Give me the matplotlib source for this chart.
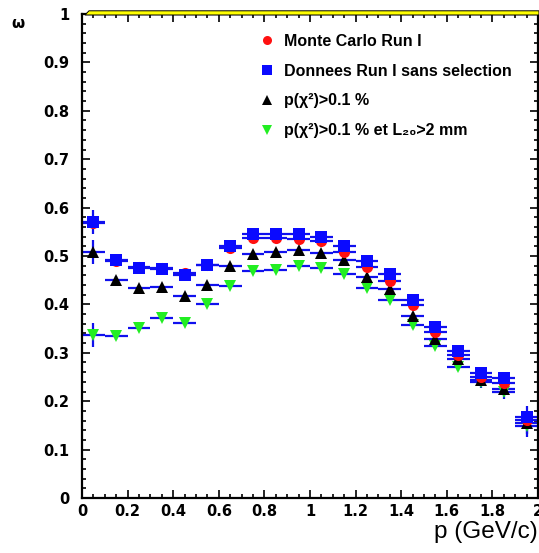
import matplotlib
matplotlib.use("Agg")
import matplotlib.pyplot as plt
from matplotlib.lines import Line2D
from matplotlib.patches import Polygon
from matplotlib.ticker import MultipleLocator, FuncFormatter

# ---- data ----
p_centers = [0.05, 0.15, 0.25, 0.35, 0.45, 0.55, 0.65, 0.75, 0.85, 0.95,
             1.05, 1.15, 1.25, 1.35, 1.45, 1.55, 1.65, 1.75, 1.85, 1.95]
bin_half = 0.05

mc_run1 = [0.568, 0.490, 0.478, 0.476, 0.465, 0.482, 0.516, 0.538, 0.538, 0.535,
           0.530, 0.509, 0.478, 0.449, 0.399, 0.344, 0.296, 0.251, 0.238, 0.161]
mc_err = [0.010, 0.005, 0.004, 0.004, 0.004, 0.004, 0.004, 0.004, 0.004, 0.004,
          0.004, 0.004, 0.004, 0.004, 0.005, 0.005, 0.006, 0.007, 0.008, 0.012]

data_run1 = [0.570, 0.491, 0.475, 0.474, 0.460, 0.482, 0.521, 0.545, 0.545, 0.545,
             0.540, 0.521, 0.490, 0.463, 0.409, 0.354, 0.304, 0.259, 0.247, 0.168]
data_err = [0.025, 0.008, 0.006, 0.006, 0.006, 0.006, 0.006, 0.006, 0.006, 0.006,
            0.006, 0.006, 0.006, 0.006, 0.007, 0.007, 0.008, 0.010, 0.012, 0.022]

chi2_sel = [0.508, 0.450, 0.433, 0.435, 0.418, 0.441, 0.479, 0.505, 0.508, 0.512,
            0.506, 0.492, 0.456, 0.432, 0.377, 0.328, 0.287, 0.244, 0.225, 0.155]
chi2_err = [0.025, 0.009, 0.006, 0.006, 0.006, 0.006, 0.006, 0.006, 0.006, 0.006,
            0.006, 0.006, 0.006, 0.006, 0.007, 0.007, 0.008, 0.010, 0.012, 0.022]

chi2_l20_sel = [0.337, 0.335, 0.352, 0.371, 0.361, 0.400, 0.438, 0.470, 0.471, 0.479,
                0.475, 0.463, 0.433, 0.409, 0.357, 0.314, 0.270, 0.240, 0.218, 0.149]
chi2_l20_err = [0.024, 0.008, 0.006, 0.006, 0.006, 0.006, 0.006, 0.006, 0.006, 0.006,
                0.006, 0.006, 0.006, 0.006, 0.007, 0.007, 0.008, 0.012, 0.014, 0.022]

labels = ["Monte Carlo Run I",
          "Donnees Run I sans selection",
          "p(\u03c7\u00b2)>0.1 %",
          "p(\u03c7\u00b2)>0.1 % et L\u2082\u2080>2 mm"]

x_ticks = [0, 0.2, 0.4, 0.6, 0.8, 1.0, 1.2, 1.4, 1.6, 1.8, 2.0]
y_ticks = [0, 0.1, 0.2, 0.3, 0.4, 0.5, 0.6, 0.7, 0.8, 0.9, 1.0]

# ---- figure ----
W, H = 539, 553
fig = plt.figure(figsize=(W / 100, H / 100), dpi=100)
ax = fig.add_axes([82 / W, 1 - 498 / H, 456 / W, 484 / H])

bar_blue = "#1010ee"
xerr = [bin_half] * len(p_centers)

series = [
    (chi2_l20_sel, chi2_l20_err, "v", "#22ee22", 8.5),
    (chi2_sel, chi2_err, "^", "black", 8.5),
    (mc_run1, mc_err, "o", "#ff1010", 8.0),
    (data_run1, data_err, "s", "#0a0aff", 8.5),
]
for vals, errs, mk, col, ms in series:
    ax.errorbar(p_centers, vals, xerr=xerr, yerr=errs, fmt="none",
                ecolor=bar_blue, elinewidth=1.6, capsize=0, zorder=2)
for vals, errs, mk, col, ms in series:
    ax.plot(p_centers, vals, linestyle="none", marker=mk, color=col,
            markersize=ms, markeredgewidth=0, zorder=3)

ax.set_xlim(0, 2)
ax.set_ylim(0, 1)
ax.set_xticks(x_ticks)
ax.set_yticks(y_ticks)
ax.xaxis.set_minor_locator(MultipleLocator(0.05))
ax.yaxis.set_minor_locator(MultipleLocator(0.02))
fmt = FuncFormatter(lambda v, pos: "%g" % round(v, 2))
ax.xaxis.set_major_formatter(fmt)
ax.yaxis.set_major_formatter(fmt)
ax.tick_params(which="both", direction="in", top=True, right=True, width=1.2,
               colors="black")
ax.tick_params(which="major", length=6)
ax.tick_params(which="minor", length=3)
ax.tick_params(axis="x", which="major", pad=4)
ax.tick_params(axis="y", which="major", pad=9)
for lab in ax.get_xticklabels() + ax.get_yticklabels():
    lab.set_fontfamily("DejaVu Sans")
    lab.set_fontweight("bold")
    lab.set_fontsize(10.5)
for sp in ax.spines.values():
    sp.set_linewidth(1.6)

# legend
handles = [
    Line2D([], [], linestyle="none", marker="o", color="#ff1010", markersize=6.5, markeredgewidth=0),
    Line2D([], [], linestyle="none", marker="s", color="#0a0aff", markersize=6.5, markeredgewidth=0),
    Line2D([], [], linestyle="none", marker="^", color="black", markersize=6.5, markeredgewidth=0),
    Line2D([], [], linestyle="none", marker="v", color="#22ee22", markersize=6.5, markeredgewidth=0),
]
leg = ax.legend(handles, labels, loc="upper left", bbox_to_anchor=(0.371, 0.975),
                frameon=False, handlelength=1.0, handletextpad=0.55,
                labelspacing=0.92, borderpad=0,
                prop={"family": ["Liberation Sans", "DejaVu Sans"], "weight": "bold", "size": 11.5})

# axis titles
fig.text(538 / W, 1 - 532 / H, "p (GeV/c)", ha="right", va="center",
         fontsize=17.5, family=["Liberation Sans", "DejaVu Sans"])
fig.text(17.5 / W, 1 - 23 / H, "\u03c9", ha="center", va="center",
         fontsize=11, fontweight="bold", family="DejaVu Sans")

# yellow frame strip on top
strip = Polygon([(85 / W, 1 - 15 / H), (89 / W, 1 - 10.8 / H), (1.0, 1 - 10.8 / H), (1.0, 1 - 15 / H)],
                closed=True, transform=fig.transFigure, facecolor="#ffff00",
                edgecolor="black", linewidth=0.7)
fig.patches.append(strip)

fig.savefig("out.png", dpi=100)
